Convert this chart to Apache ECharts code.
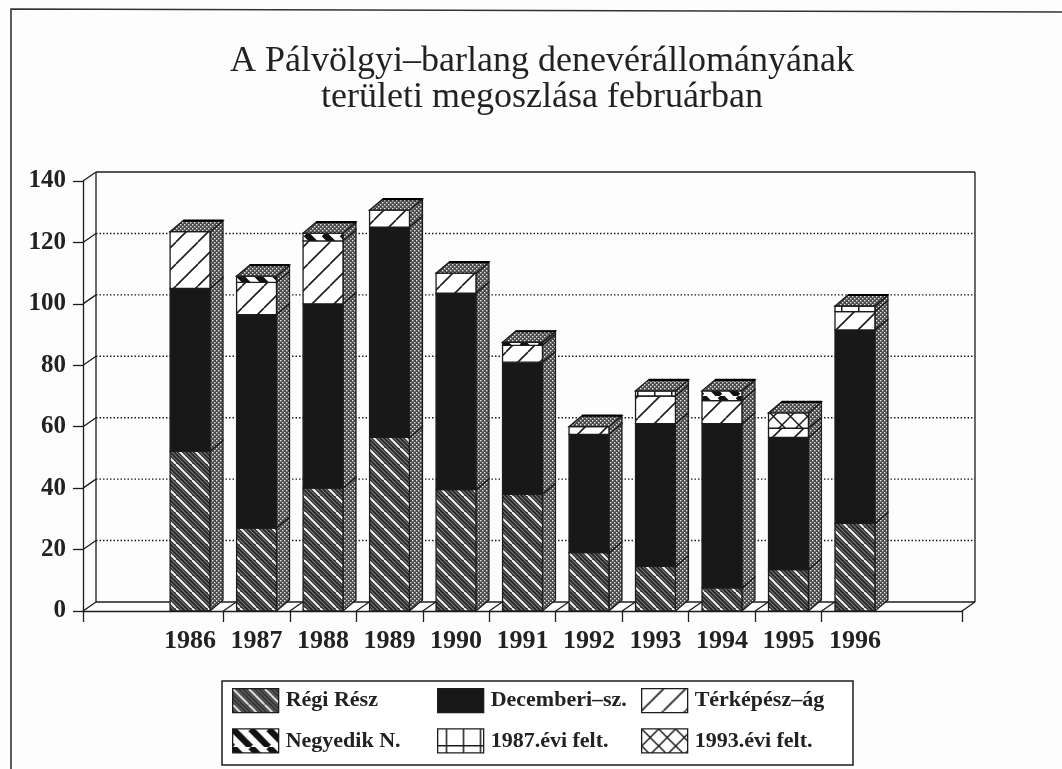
<!DOCTYPE html>
<html>
<head>
<meta charset="utf-8">
<script src="https://cdn.jsdelivr.net/npm/echarts@6/dist/echarts.min.js"></script>
<style>
    html, body { margin: 0; padding: 0; background: #fff; }
    #main { width: 1062px; height: 769px; filter: blur(0.4px); }
</style>
</head>
<body>
<div id="main"></div>
<script>
// data
const years = ['1986', '1987', '1988', '1989', '1990', '1991', '1992', '1993', '1994', '1995', '1996'];
const yTicks = [0, 20, 40, 60, 80, 100, 120, 140];
const regiResz = [52, 27, 40, 56.5, 39.5, 38, 19, 14.5, 7.5, 13.5, 28.5];
const decemberi = [53, 69.5, 60, 68.5, 64, 43, 38.5, 46.5, 53.5, 43, 63];
const terkepesz = [18.5, 10.5, 20.5, 5.5, 6.5, 5.5, 2.5, 9, 7.5, 3, 6];
const negyedik = [0, 2, 2.5, 0, 0, 1, 0, 0, 3.2, 0, 0];
const felt1987 = [0, 0, 0, 0, 0, 0, 0, 1.7, 0, 0, 1.8];
const felt1993 = [0, 0, 0, 0, 0, 0, 0, 0, 0, 5, 0];

const INK = '#1c1c1c';
const DX = 13;   // 3D depth of the frame
const DY = -9;
const BAR_DY = -11;   // bars are a bit deeper

// pattern tiles
function tile(w, h, draw) {
    const c = document.createElement('canvas');
    c.width = w;
    c.height = h;
    draw(c.getContext('2d'));
    return { image: c, repeat: 'repeat' };
}
// 45 degree stripes, dir 1 = "/", -1 = "\"
function stripes(ctx, p, dir, width, color, shift) {
    ctx.strokeStyle = color;
    ctx.lineWidth = width;
    for (let k = -2; k <= 2; k++) {
        const o = k * p + (shift || 0);
        ctx.beginPath();
        if (dir > 0) { ctx.moveTo(o, p); ctx.lineTo(o + p, 0); }
        else { ctx.moveTo(o, 0); ctx.lineTo(o + p, p); }
        ctx.stroke();
    }
}
const fillRegi = tile(16, 16, ctx => {
    ctx.fillStyle = '#262626';
    ctx.fillRect(0, 0, 16, 16);
    stripes(ctx, 16, -1, 2.2, '#f2f2f2', 0);
    stripes(ctx, 16, -1, 1.1, '#777', 4);
    stripes(ctx, 16, -1, 1.1, '#777', 8);
    stripes(ctx, 16, -1, 1.1, '#777', 12);
});
const fillDec = '#181818';
const fillTerk = tile(22, 22, ctx => {
    ctx.fillStyle = '#fff';
    ctx.fillRect(0, 0, 22, 22);
    stripes(ctx, 22, 1, 1.6, INK, 0);
});
const fillNegy = tile(18, 18, ctx => {
    ctx.fillStyle = '#fff';
    ctx.fillRect(0, 0, 18, 18);
    stripes(ctx, 18, -1, 6.5, '#111', 0);
});
const fill1987 = tile(17, 22, ctx => {
    ctx.fillStyle = '#fff';
    ctx.fillRect(0, 0, 17, 22);
    ctx.fillStyle = INK;
    ctx.fillRect(8, 0, 1.5, 22);
    ctx.fillRect(0, 16, 17, 1.5);
});
const fill1993 = tile(17, 17, ctx => {
    ctx.fillStyle = '#fff';
    ctx.fillRect(0, 0, 17, 17);
    stripes(ctx, 17, 1, 1.5, INK, 0);
    stripes(ctx, 17, -1, 1.5, INK, 0);
});
const fillDither = tile(4, 4, ctx => {
    ctx.fillStyle = '#4a4a4a';
    ctx.fillRect(0, 0, 4, 4);
    ctx.fillStyle = '#e8e8e8';
    ctx.fillRect(0, 0, 1.4, 1.4);
    ctx.fillRect(2, 2, 1.4, 1.4);
});

const layers = [
    { name: 'Régi Rész', values: regiResz, fill: fillRegi },
    { name: 'Decemberi–sz.', values: decemberi, fill: fillDec },
    { name: 'Térképész–ág', values: terkepesz, fill: fillTerk },
    { name: 'Negyedik N.', values: negyedik, fill: fillNegy },
    { name: '1987.évi felt.', values: felt1987, fill: fill1987 },
    { name: '1993.évi felt.', values: felt1993, fill: fill1993 }
];

// stacking: [index, base, top, isTopLayer]
const stacked = layers.map(() => []);
years.forEach((y, i) => {
    let base = 0;
    let last = 0;
    layers.forEach((l, n) => { if (l.values[i] > 0) last = n; });
    layers.forEach((l, n) => {
        const v = l.values[i];
        stacked[n].push([i, base, base + v, n === last ? 1 : 0]);
        base += v;
    });
});

const xMin = -1.61;
const xMax = 11.61;
const xTicks = [xMin, 0.5, 1.5, 2.5, 3.5, 4.5, 5.5, 6.5, 7.5, 8.5, 9.5, xMax];

function poly(points, fill, lineWidth) {
    return {
        type: 'polygon',
        shape: { points: points },
        style: { fill: fill, stroke: INK, lineWidth: lineWidth === undefined ? 1.3 : lineWidth }
    };
}

function renderLayer(fill) {
    return function (params, api) {
        const base = api.value(1);
        const top = api.value(2);
        if (top <= base) return null;
        const half = api.size([1, 0])[0] * 0.3;
        const c = api.value(0);
        const p0 = api.coord([c, base]);
        const p1 = api.coord([c, top]);
        const l = p0[0] - half;
        const r = p0[0] + half;
        const children = [
            poly([[r, p0[1]], [r + DX, p0[1] + BAR_DY], [r + DX, p1[1] + BAR_DY], [r, p1[1]]], fillDither),
            poly([[l, p0[1]], [r, p0[1]], [r, p1[1]], [l, p1[1]]], fill)
        ];
        if (api.value(3)) {
            children.push(poly([[l, p1[1]], [r, p1[1]], [r + DX, p1[1] + BAR_DY], [l + DX, p1[1] + BAR_DY]], fillDither));
            children.push({
                type: 'line',
                shape: { x1: l + DX, y1: p1[1] + BAR_DY, x2: r + DX, y2: p1[1] + BAR_DY },
                style: { stroke: '#000', lineWidth: 2.2 }
            });
        }
        return { type: 'group', children: children };
    };
}

// back wall, floor and dotted grid lines
function renderFrame(params, api) {
    const v = api.value(0);
    const a = api.coord([xMin, v]);
    const b = api.coord([xMax, v]);
    const children = [
        {
            type: 'line',
            shape: { x1: a[0], y1: a[1], x2: a[0] + DX, y2: a[1] + DY },
            style: { stroke: INK, lineWidth: 1.3 }
        },
        {
            type: 'line',
            shape: { x1: a[0] + DX, y1: a[1] + DY, x2: b[0] + DX, y2: b[1] + DY },
            style: v === 0 || v === 140
                ? { stroke: INK, lineWidth: 1.3 }
                : { stroke: INK, lineWidth: 1.4, lineDash: [1.5, 2] }
        }
    ];
    if (v === 0) {
        children.push({
            type: 'line',
            shape: { x1: b[0], y1: b[1], x2: b[0] + DX, y2: b[1] + DY },
            style: { stroke: INK, lineWidth: 1.3 }
        });
        const t = api.coord([xMin, 140]);
        const u = api.coord([xMax, 140]);
        children.push({
            type: 'line',
            shape: { x1: t[0] + DX, y1: t[1] + DY, x2: t[0] + DX, y2: a[1] + DY },
            style: { stroke: INK, lineWidth: 1.3 }
        });
        children.push({
            type: 'line',
            shape: { x1: u[0] + DX, y1: u[1] + DY, x2: u[0] + DX, y2: a[1] + DY },
            style: { stroke: INK, lineWidth: 1.3 }
        });
    }
    return { type: 'group', children: children };
}

// floor slats between the bars
function renderFloor(params, api) {
    const p = api.coord([api.value(0), 0]);
    return {
        type: 'line',
        shape: { x1: p[0], y1: p[1], x2: p[0] + DX, y2: p[1] + DY },
        style: { stroke: INK, lineWidth: 1.3 }
    };
}

const series = [
    {
        name: 'frame',
        type: 'custom',
        coordinateSystem: 'cartesian2d',
        clip: false,
        z: 1,
        silent: true,
        encode: { x: -1, y: 0 },
        data: yTicks.map(v => [v]),
        renderItem: renderFrame
    },
    {
        name: 'floor',
        type: 'custom',
        coordinateSystem: 'cartesian2d',
        clip: false,
        z: 1,
        silent: true,
        encode: { x: 0, y: -1 },
        data: xTicks.slice(1, -1).map(v => [v]),
        renderItem: renderFloor
    }
];
layers.forEach((l, n) => {
    series.push({
        name: l.name,
        type: 'custom',
        coordinateSystem: 'cartesian2d',
        clip: false,
        z: 3,
        itemStyle: { color: l.fill },
        encode: { x: 0, y: [1, 2] },
        data: stacked[n],
        renderItem: renderLayer(l.fill)
    });
});

const legendBase = {
    orient: 'vertical',
    top: 688,
    icon: 'rect',
    itemWidth: 46,
    itemHeight: 24,
    itemGap: 15,
    itemStyle: { borderColor: INK, borderWidth: 1.3 },
    selectedMode: false,
    padding: 0,
    textStyle: { fontFamily: 'Liberation Serif', fontSize: 22, fontWeight: 'bold', color: '#222', padding: [0, 0, 0, 2] }
};

var myChart = echarts.init(document.getElementById('main'));
myChart.setOption({
    animation: false,
    backgroundColor: '#fdfdfd',
    title: {
        text: 'A Pálvölgyi–barlang denevérállományának\nterületi megoszlása februárban',
        left: 537,
        top: 39,
        textAlign: 'center',
        textStyle: {
            fontFamily: 'Liberation Serif',
            fontSize: 36,
            fontWeight: 'normal',
            color: '#222',
            lineHeight: 36
        }
    },
    grid: { left: 83, right: 100, top: 181, bottom: 158 },
    xAxis: {
        type: 'value',
        min: xMin,
        max: xMax,
        splitLine: { show: false },
        axisLine: { show: true, onZero: false, lineStyle: { color: INK, width: 1.3 } },
        axisTick: { show: true, length: 11, customValues: xTicks, lineStyle: { color: INK, width: 1.3 } },
        axisLabel: {
            margin: 17,
            customValues: years.map((y, i) => i),
            formatter: v => years[v],
            fontFamily: 'Liberation Serif',
            fontSize: 26,
            fontWeight: 'bold',
            color: '#222'
        }
    },
    yAxis: {
        type: 'value',
        min: 0,
        max: 140,
        interval: 20,
        splitLine: { show: false },
        axisLine: { show: true, onZero: false, lineStyle: { color: INK, width: 1.3 } },
        axisTick: { show: true, length: 10, lineStyle: { color: INK, width: 1.3 } },
        axisLabel: { margin: 17, fontFamily: 'Liberation Serif', fontSize: 25, fontWeight: 'bold', color: '#222' }
    },
    legend: [
        Object.assign({}, legendBase, { left: 232, data: ['Régi Rész', 'Negyedik N.'] }),
        Object.assign({}, legendBase, { left: 437, data: ['Decemberi–sz.', '1987.évi felt.'] }),
        Object.assign({}, legendBase, { left: 641, data: ['Térképész–ág', '1993.évi felt.'] })
    ],
    graphic: [
        {
            type: 'rect',
            silent: true,
            z: -1,
            shape: { x: 222, y: 681, width: 631, height: 84 },
            style: { fill: '#fff', stroke: INK, lineWidth: 1.5 }
        },
        {
            type: 'polyline',
            silent: true,
            shape: { points: [[11, 769], [11, 9], [1062, 12]] },
            style: { fill: null, stroke: '#333', lineWidth: 1.6 }
        }
    ],
    series: series
});
</script>
</body>
</html>
